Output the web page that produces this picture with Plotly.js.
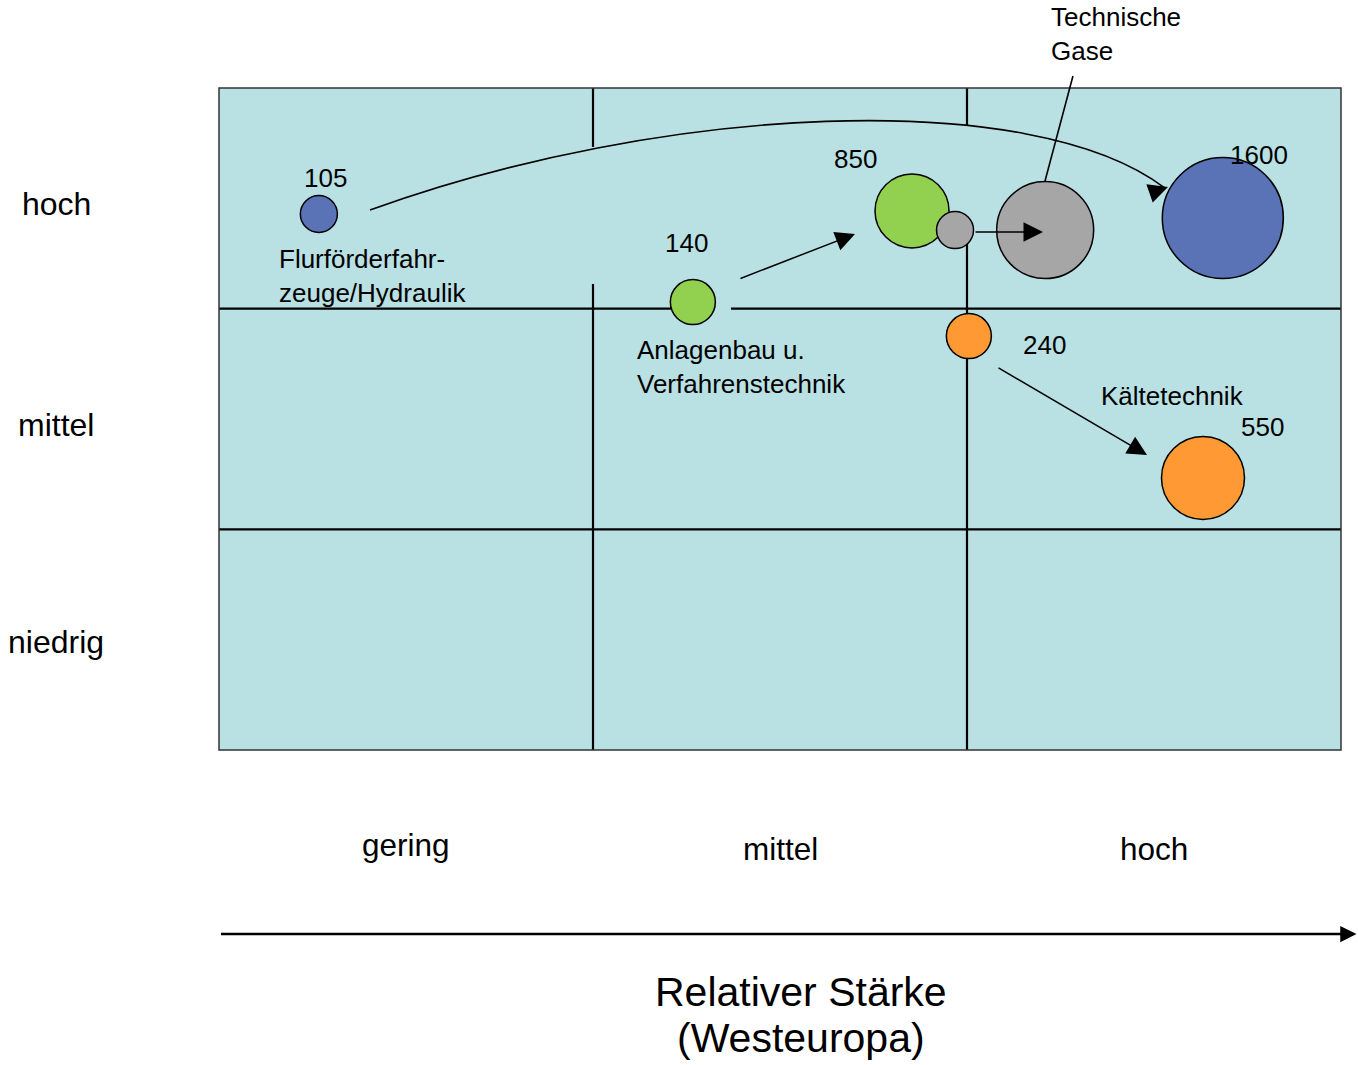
<!DOCTYPE html>
<html>
<head>
<meta charset="utf-8">
<script src="https://cdn.plot.ly/plotly-3.0.1.min.js"></script>
<style>
  html, body { margin: 0; padding: 0; background: #ffffff; }
  #chart { width: 1358px; height: 1065px; }
</style>
</head>
<body>
<div id="chart"></div>
<script>
// ---------------- DATA ----------------
// Sectors (one colour each); each has a current ("start") and a future ("end") bubble
const sectorNames = ['Flurförderfahrzeuge/Hydraulik', 'Anlagenbau u. Verfahrenstechnik', 'Technische Gase', 'Kältetechnik'];
const sectorLabels = ['Flurförderfahr-<br>zeuge/Hydraulik', 'Anlagenbau u.<br>Verfahrenstechnik', 'Technische<br>Gase', 'Kältetechnik'];
// x: relative strength (0..3 = gering|mittel|hoch), y: attractiveness (0..3 = niedrig|mittel|hoch)
const startX = [0.267, 1.267, 1.968, 2.005];
const startY = [2.429, 2.030, 2.356, 1.876];
const endX   = [2.684, 1.853, 2.209, 2.631];
const endY   = [2.411, 2.443, 2.356, 1.233];
// market volumes shown next to bubbles
const startValue = ['105', '140', '', '240'];
const endValue   = ['1600', '850', '', '550'];
// bubble diameters (px)
const startSize = [37, 45, 37, 45];
const endSize   = [121, 74, 97, 83];
const sectorColors = ['#5A73B7', '#92D050', '#A6A6A6', '#FF9933'];

// axis category labels
const xCategories = ['gering', 'mittel', 'hoch'];
const yCategories = ['niedrig', 'mittel', 'hoch'];
const xAxisTitleLines = ['Relativer Stärke', '(Westeuropa)'];

// ---------------- LAYOUT HELPERS ----------------
const FONT = 'Arial, "Liberation Sans", Helvetica, sans-serif';
const BG = '#B9E0E3';

const traces = [];
const order = [0, 1, 2, 3];
order.forEach(i => {
  traces.push({
    type: 'scatter', mode: 'markers', name: sectorNames[i],
    x: [endX[i]], y: [endY[i]],
    marker: { size: endSize[i], color: sectorColors[i], line: { color: '#000000', width: 1.5 }, opacity: 1 },
    hoverinfo: 'skip', showlegend: false, cliponaxis: false
  });
});
order.forEach(i => {
  traces.push({
    type: 'scatter', mode: 'markers', name: sectorNames[i],
    x: [startX[i]], y: [startY[i]],
    marker: { size: startSize[i], color: sectorColors[i], line: { color: '#000000', width: 1.5 }, opacity: 1 },
    hoverinfo: 'skip', showlegend: false, cliponaxis: false
  });
});

// grid lines (with the gaps seen in the original)
const gridLine = { color: '#000000', width: 2.2 };
const shapes = [
  { type: 'line', xref: 'x', yref: 'y', x0: 1, x1: 1, y0: 3, y1: 2.733, line: gridLine, layer: 'below' },
  { type: 'line', xref: 'x', yref: 'y', x0: 1, x1: 1, y0: 2.112, y1: 0, line: gridLine, layer: 'below' },
  { type: 'line', xref: 'x', yref: 'y', x0: 2, x1: 2, y0: 3, y1: 2.828, line: gridLine, layer: 'below' },
  { type: 'line', xref: 'x', yref: 'y', x0: 2, x1: 2, y0: 2.30, y1: 0, line: gridLine, layer: 'below' },
  { type: 'line', xref: 'x', yref: 'y', x0: 0, x1: startX[1], y0: 2, y1: 2, line: gridLine, layer: 'below' },
  { type: 'line', xref: 'x', yref: 'y', x0: 1.369, x1: 3, y0: 2, y1: 2, line: gridLine, layer: 'below' },
  { type: 'line', xref: 'x', yref: 'y', x0: 0, x1: 3, y0: 1, y1: 1, line: gridLine, layer: 'below' },
  // plot frame
  { type: 'rect', xref: 'paper', yref: 'paper', x0: 0, x1: 1, y0: 0, y1: 1, line: { color: '#333333', width: 1.5 }, layer: 'above' },
  // curved arrow shaft (Flurförderfahrzeuge 105 -> 1600)
  { type: 'path', xref: 'x', yref: 'y', layer: 'above',
    path: 'M 0.4037,2.4471 C 1.1791,2.9229 2.1711,3.0090 2.5294,2.5466',
    line: { color: '#000000', width: 1.6 } },
  // leader line for "Technische Gase"
  { type: 'line', xref: 'paper', yref: 'paper', x0: 0.7611, y0: 1.0181, x1: 0.7362, y1: 0.8595,
    line: { color: '#000000', width: 1.6 } }
];

const annotations = [];
const txt = (text, x, y, opts) => Object.assign({
  text: text, x: x, y: y, xref: 'x', yref: 'y', showarrow: false,
  font: { family: FONT, size: 26, color: '#000000' }, xanchor: 'center', yanchor: 'middle'
}, opts || {});

// value labels
annotations.push(txt(startValue[0], 0.286, 2.592));
annotations.push(txt(endValue[0], 2.781, 2.696));
annotations.push(txt(startValue[1], 1.249, 2.298));
annotations.push(txt(endValue[1], 1.701, 2.678));
annotations.push(txt(startValue[3], 2.206, 1.835));
annotations.push(txt(endValue[3], 2.791, 1.464));
// sector labels
annotations.push(txt(sectorLabels[0], 0.154, 2.148, { xanchor: 'left', align: 'left' }));
annotations.push(txt(sectorLabels[1], 1.112, 1.736, { xanchor: 'left', align: 'left' }));
annotations.push(txt(sectorLabels[3], 2.352, 1.604, { xanchor: 'left', align: 'left' }));
annotations.push(txt(sectorLabels[2], 0.7395, 1.0816, { xref: 'paper', yref: 'paper', xanchor: 'left', align: 'left' }));

// arrows (movement from current to future position)
const arrow = (x0, y0, x1, y1) => ({
  text: '', x: x1, y: y1, ax: x0, ay: y0, xref: 'x', yref: 'y', axref: 'x', ayref: 'y',
  showarrow: true, arrowhead: 2, arrowsize: 2.6, arrowwidth: 1.5, arrowcolor: '#000000', standoff: 0
});
annotations.push(arrow(1.3904, 2.1344, 1.7005, 2.3383));
annotations.push(arrow(2.0187, 2.3474, 2.2032, 2.3474));
annotations.push(arrow(2.0802, 1.7356, 2.4813, 1.3368));
annotations.push(arrow(2.4893, 2.5232, 2.5374, 2.5513));

// y category labels (left)
const yLabelPos = [0.49, 1.471, 2.473];
yCategories.forEach((c, i) => {
  annotations.push({ text: c, x: -0.145, y: yLabelPos[i], xref: 'paper', yref: 'y', showarrow: false,
    xanchor: 'center', yanchor: 'middle', font: { family: FONT, size: 32, color: '#000000' } });
});
// x category labels (bottom)
const xLabelPos = [0.5, 1.5, 2.5];
const xLabelYPaper = [-0.143, -0.150, -0.150];
xCategories.forEach((c, i) => {
  annotations.push({ text: c, x: xLabelPos[i] / 3, y: xLabelYPaper[i], xref: 'paper', yref: 'paper', showarrow: false,
    xanchor: 'center', yanchor: 'middle', font: { family: FONT, size: 31.5, color: '#000000' } });
});
// x axis arrow
annotations.push({ text: '', x: 1.0138, y: -0.278, xref: 'paper', yref: 'paper', axref: 'pixel', ayref: 'pixel',
  ax: -1137, ay: 0, showarrow: true, arrowhead: 2, arrowsize: 1.3, arrowwidth: 2.5, arrowcolor: '#000000', standoff: 0 });
// x axis title (two lines)
const titleYPaper = [-0.3656, -0.4350];
xAxisTitleLines.forEach((t, i) => {
  annotations.push({ text: t, x: 0.519, y: titleYPaper[i], xref: 'paper', yref: 'paper', showarrow: false,
    xanchor: 'center', yanchor: 'middle', borderpad: 0, font: { family: FONT, size: 41, color: '#000000' } });
});

const layout = {
  width: 1358, height: 1065,
  margin: { l: 219, r: 17, t: 88, b: 315, pad: 0 },
  paper_bgcolor: '#ffffff', plot_bgcolor: BG,
  showlegend: false,
  xaxis: { range: [0, 3], showgrid: false, zeroline: false, showticklabels: false, ticks: '', showline: false, fixedrange: true },
  yaxis: { range: [0, 3], showgrid: false, zeroline: false, showticklabels: false, ticks: '', showline: false, fixedrange: true },
  shapes: shapes,
  annotations: annotations,
  hovermode: false
};

Plotly.newPlot('chart', traces, layout, { displayModeBar: false, staticPlot: true });
</script>
</body>
</html>
